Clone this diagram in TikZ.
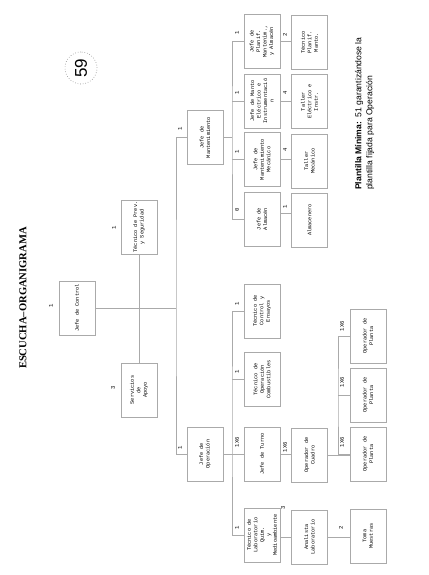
\documentclass[tikz,border=0pt]{standalone}
\usepackage{fontspec}
\setmainfont{Liberation Serif}
\setmonofont{Liberation Mono}
\newfontfamily\arialf{Liberation Sans}
\definecolor{boxgray}{RGB}{170,170,170}
\definecolor{linegray}{RGB}{170,170,170}
\begin{document}
\begin{tikzpicture}[x=1pt,y=-1pt,
  box/.style={draw=boxgray, line width=0.8pt, rotate=90, minimum width=54pt, minimum height=36pt,
    inner sep=0pt, align=center, font=\ttfamily\fontsize{5.3}{6.5}\selectfont},
  conn/.style={draw=linegray, line width=0.8pt},
  num/.style={rotate=90, inner sep=0pt, font=\ttfamily\fontsize{5.6}{6.6}\selectfont}]
\useasboundingbox[fill=white] (0,0) rectangle (428,575);

% title and notes
\node[rotate=90, font=\bfseries\fontsize{10.6}{12}\selectfont] (title) at (23,298) {ESCUCHA–ORGANIGRAMA};
\node[circle, draw=gray, dotted, line width=0.6pt, minimum size=32pt, inner sep=0pt, rotate=90,
  font=\arialf\fontsize{17}{18}\selectfont] (c59) at (81,68) {59};
\node[rotate=90, anchor=west, inner sep=0pt, font=\arialf\fontsize{8.6}{10}\selectfont] (note1) at (359,190)
  {\textbf{Plantilla Mínima:}\ \ 51 garantizándose la};
\node[rotate=90, anchor=west, inner sep=0pt, font=\arialf\fontsize{8.6}{10}\selectfont] (note2) at (370,190)
  {plantilla fijada para Operación};

% main boxes
\node[box] (jm) at (205,137.5) {Jefe de\\Mantenimiento};
\node[box] (tps) at (139,227) {Técnico de Prev.\\y Seguridad};
\node[box] (jc) at (77,308) {Jefe de Control};
\node[box] (sa) at (139,390) {Servicios\\de\\Apoyo};
\node[box] (jo) at (205,454) {Jefe de\\Operación};

% maintenance
\node[box] (jpm) at (262,41.5) {Jefe de\\Planif.\\Mantenim.,\\y Almacén};
\node[box] (jme) at (262,101) {Jefe de Manto\\Eléctrico e\\Instrumentació\\n};
\node[box] (jmm) at (262,159.5) {Jefe de\\Mantenimiento\\Mecánico};
\node[box] (ja) at (262,219) {Jefe de\\Almacén};
\node[box] (tpm) at (309.5,42.5) {Técnico\\Planif.\\Manto.};
\node[box] (tei) at (309.5,101.5) {Taller\\Eléctrico e\\Instr.};
\node[box] (tm) at (309.5,161) {Taller\\Mecánico};
\node[box] (alm) at (309.5,220) {Almacenero};

% operation
\node[box] (tce) at (262,311) {Técnico de\\Control y\\Ensayos};
\node[box] (toc) at (262,379.5) {Técnico de\\Operación\\Combustibles};
\node[box] (jt) at (262,454) {Jefe de Turno};
\node[box] (tlq) at (262,535) {Técnico de\\Laboratorio\\Quím.\\y\\Medioambiente};
\node[box] (oc) at (309.5,455) {Operador de\\Cuadro};
\node[box] (al) at (309.5,537) {Analista\\Laboratorio};
\node[box] (op1) at (368,454) {Operador de\\Planta};
\node[box] (op2) at (368,395) {Operador de\\Planta};
\node[box] (op3) at (368,336) {Operador de\\Planta};
\node[box] (tmu) at (368,536) {Toma\\Muestras};

% bus coordinates
\coordinate (b1) at (176,300);
\coordinate (b2) at (232,130);
\coordinate (b3) at (232,420);
\coordinate (b4) at (338,400);

% connectors
\draw[conn] (jm.north) -| (b1) |- (jo.north);
\draw[conn] (jc.south) -- (jc.south -| b1);
\draw[conn] (tps.west) -- (sa.east);

\draw[conn] (jm.south) -- (jm.south -| b2);
\draw[conn] (jpm.north) -| (b2) |- (ja.north);
\draw[conn] (jme.north) -- (jme.north -| b2);
\draw[conn] (jmm.north) -- (jmm.north -| b2);
\draw[conn] (jpm.south) -- (jpm.south -| tpm.north);
\draw[conn] (jme.south) -- (jme.south -| tei.north);
\draw[conn] (jmm.south) -- (jmm.south -| tm.north);
\draw[conn] ([yshift=6pt]ja.south) -- ([yshift=6pt]ja.south -| alm.north);

\draw[conn] (jo.south) -- (jt.north);
\draw[conn] (tce.north) -| (b3) |- (tlq.north);
\draw[conn] (toc.north) -- (toc.north -| b3);
\draw[conn] (jt.south) -- (jt.south -| oc.north);
\draw[conn] ([yshift=-2pt]tlq.south) -- ([yshift=-2pt]tlq.south -| al.north);
\draw[conn] (oc.south) -- (oc.south -| op1.north);
\draw[conn] (op3.north) -| (b4) |- (op1.north);
\draw[conn] (op2.north) -- (op2.north -| b4);
\draw[conn] (al.south) -- (al.south -| tmu.north);

% quantity labels
\node[num] (n1) at (180,129) {1};
\node[num] (n2) at (114,228) {1};
\node[num] (n3) at (51,306) {1};
\node[num] (n4) at (113,388) {3};
\node[num] (n5) at (180,448) {1};
\node[num] (n6) at (237,33) {1};
\node[num] (n7) at (237,93) {1};
\node[num] (n8) at (237,152) {1};
\node[num] (n9) at (237,210) {0};
\node[num] (n10) at (285,35) {2};
\node[num] (n11) at (285,93) {4};
\node[num] (n12) at (285,150) {4};
\node[num] (n13) at (285,207) {1};
\node[num] (n14) at (237,304) {1};
\node[num] (n15) at (237,372) {1};
\node[num] (n16) at (237,442) {1X6};
\node[num] (n17) at (237,528) {1};
\node[num] (n18) at (283,508) {3};
\node[num] (n19) at (285,447) {1X6};
\node[num] (n20) at (342,442) {1X6};
\node[num] (n21) at (342,382) {1X6};
\node[num] (n22) at (342,326) {1X6};
\node[num] (n23) at (341,528) {2};
\end{tikzpicture}
\end{document}
